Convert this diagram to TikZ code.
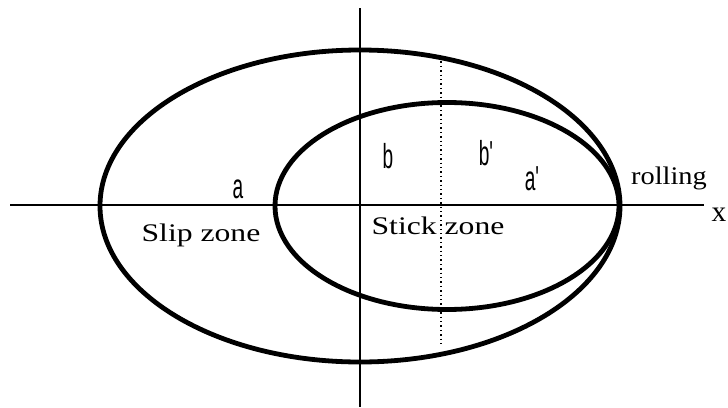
\documentclass[tikz,border=0pt]{standalone}
\usepackage{fontspec}
\setmainfont{Liberation Serif}
\newfontfamily\narrowfont{Liberation Sans}
\newcommand{\zonetext}[2][1.25]{\scalebox{#1}[1]{\fontsize{19}{22}\selectfont #2}}
\newcommand{\semiaxis}[1]{\scalebox{0.55}[1]{\fontsize{26}{30}\selectfont\narrowfont #1}}

\begin{document}
\begin{tikzpicture}[x=0.75pt,y=-0.75pt, every node/.style={inner sep=0pt},
    contact/.style={line width=3.6pt},
    axis/.style={line width=1.5pt},
    guide/.style={line width=0.8pt, dash pattern=on 1.1pt off 2.2pt}]
    \useasboundingbox (0,0) rectangle (728,407);

    \coordinate (xl) at (10,205);
    \coordinate (xr) at (704,205);
    \coordinate (yt) at (360,8);
    \coordinate (yb) at (360,407);
    \coordinate (gt) at (441,57);
    \coordinate (gb) at (441,346);

    \draw[axis] (xl) -- (xr);
    \draw[axis] (yt) -- (yb);
    \draw[guide] (gt) -- (gb);

    % contact ellipse and stick ellipse
    \draw[contact] (360,206) ellipse [x radius=260, y radius=156];
    \draw[contact] (447,206) ellipse [x radius=172, y radius=103.5];

    \node[anchor=base] (xlab) at (719,221) {\fontsize{22}{24}\selectfont x};
    \node[anchor=base] (a) at (238,198) {\semiaxis{a}};
    \node[anchor=base] (b) at (388,168) {\semiaxis{b}};
    \node[anchor=base] (bp) at (486,165) {\semiaxis{b\textquotesingle}};
    \node[anchor=base] (ap) at (532,190) {\semiaxis{a\textquotesingle}};
    \node[anchor=base] (roll) at (669,184) {\zonetext[1.12]{rolling}};
    \node[anchor=base] (slip) at (201,241) {\zonetext{Slip zone}};
    \node[anchor=base] (stick) at (438,234) {\zonetext{Stick zone}};
\end{tikzpicture}
\end{document}
